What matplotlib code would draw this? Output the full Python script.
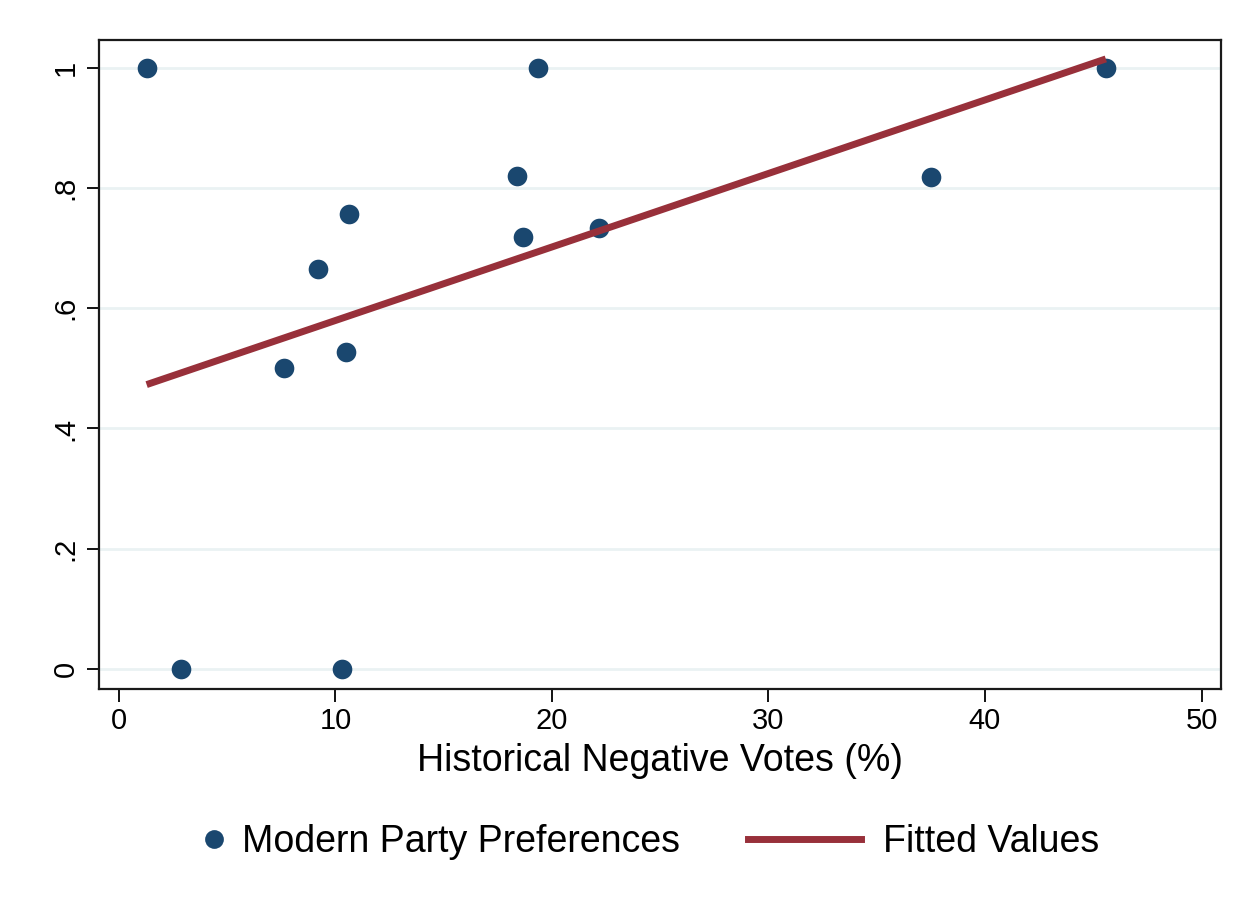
import matplotlib.pyplot as plt
from matplotlib.lines import Line2D

plt.rcParams['font.family'] = ['Liberation Sans', 'DejaVu Sans']

# datos
neg_votes = [1.28, 2.85, 7.62, 9.19, 10.29, 10.50, 10.62, 18.40, 18.66, 19.34, 22.17, 37.52, 45.58]
party_pref = [1.0, 0.0, 0.500, 0.666, 0.0, 0.527, 0.757, 0.820, 0.719, 1.0, 0.733, 0.819, 1.0]

fit_x = [1.28, 45.58]
fit_y = [0.473, 1.015]

xticks = [0, 10, 20, 30, 40, 50]
yticks = [0, 0.2, 0.4, 0.6, 0.8, 1.0]
ytick_labels = ['0', '.2', '.4', '.6', '.8', '1']

navy = '#1A476F'
maroon = '#98303A'

fig = plt.figure(figsize=(12.49, 9.05), dpi=100)
ax = fig.add_axes([99 / 1249, 1 - 689 / 905, 1122 / 1249, 649 / 905])

ax.scatter(neg_votes, party_pref, s=200, color=navy, zorder=3, linewidths=0)
ax.plot(fit_x, fit_y, color=maroon, lw=5, solid_capstyle='butt', zorder=4)

ax.set_xlim(-0.92, 50.9)
ax.set_ylim(-0.0336, 1.0465)
ax.set_xticks(xticks)
ax.set_yticks(yticks)
ax.set_yticklabels(ytick_labels, rotation=90, va='center')

ax.yaxis.grid(True, color='#EAF2F3', lw=2)
ax.set_axisbelow(True)

for s in ax.spines.values():
    s.set_linewidth(1.6)
    s.set_color('#1a1a1a')

ax.tick_params(axis='x', length=9, width=1.3, pad=4, labelsize=21)
ax.tick_params(axis='y', length=9, width=1.3, pad=5, labelsize=21)

ax.set_xlabel('Historical Negative Votes (%)', fontsize=27, labelpad=6)

# leyenda abajo, dos partes
h1 = Line2D([], [], marker='o', ls='none', color=navy, markersize=13.5, markeredgewidth=0)
h2 = Line2D([], [], color=maroon, lw=5)
fig.legend([h1], ['Modern Party Preferences'], loc='center left',
           bbox_to_anchor=(195 / 1249, 1 - 842 / 905), frameon=False, fontsize=27,
           handlelength=1.0, handletextpad=0.25, borderpad=0, borderaxespad=0)
fig.legend([h2], ['Fitted Values'], loc='center left',
           bbox_to_anchor=(748 / 1249, 1 - 842 / 905), frameon=False, fontsize=27,
           handlelength=3.0, handletextpad=0.6, borderpad=0, borderaxespad=0)

plt.savefig('out.png', dpi=100)
plt.close()
